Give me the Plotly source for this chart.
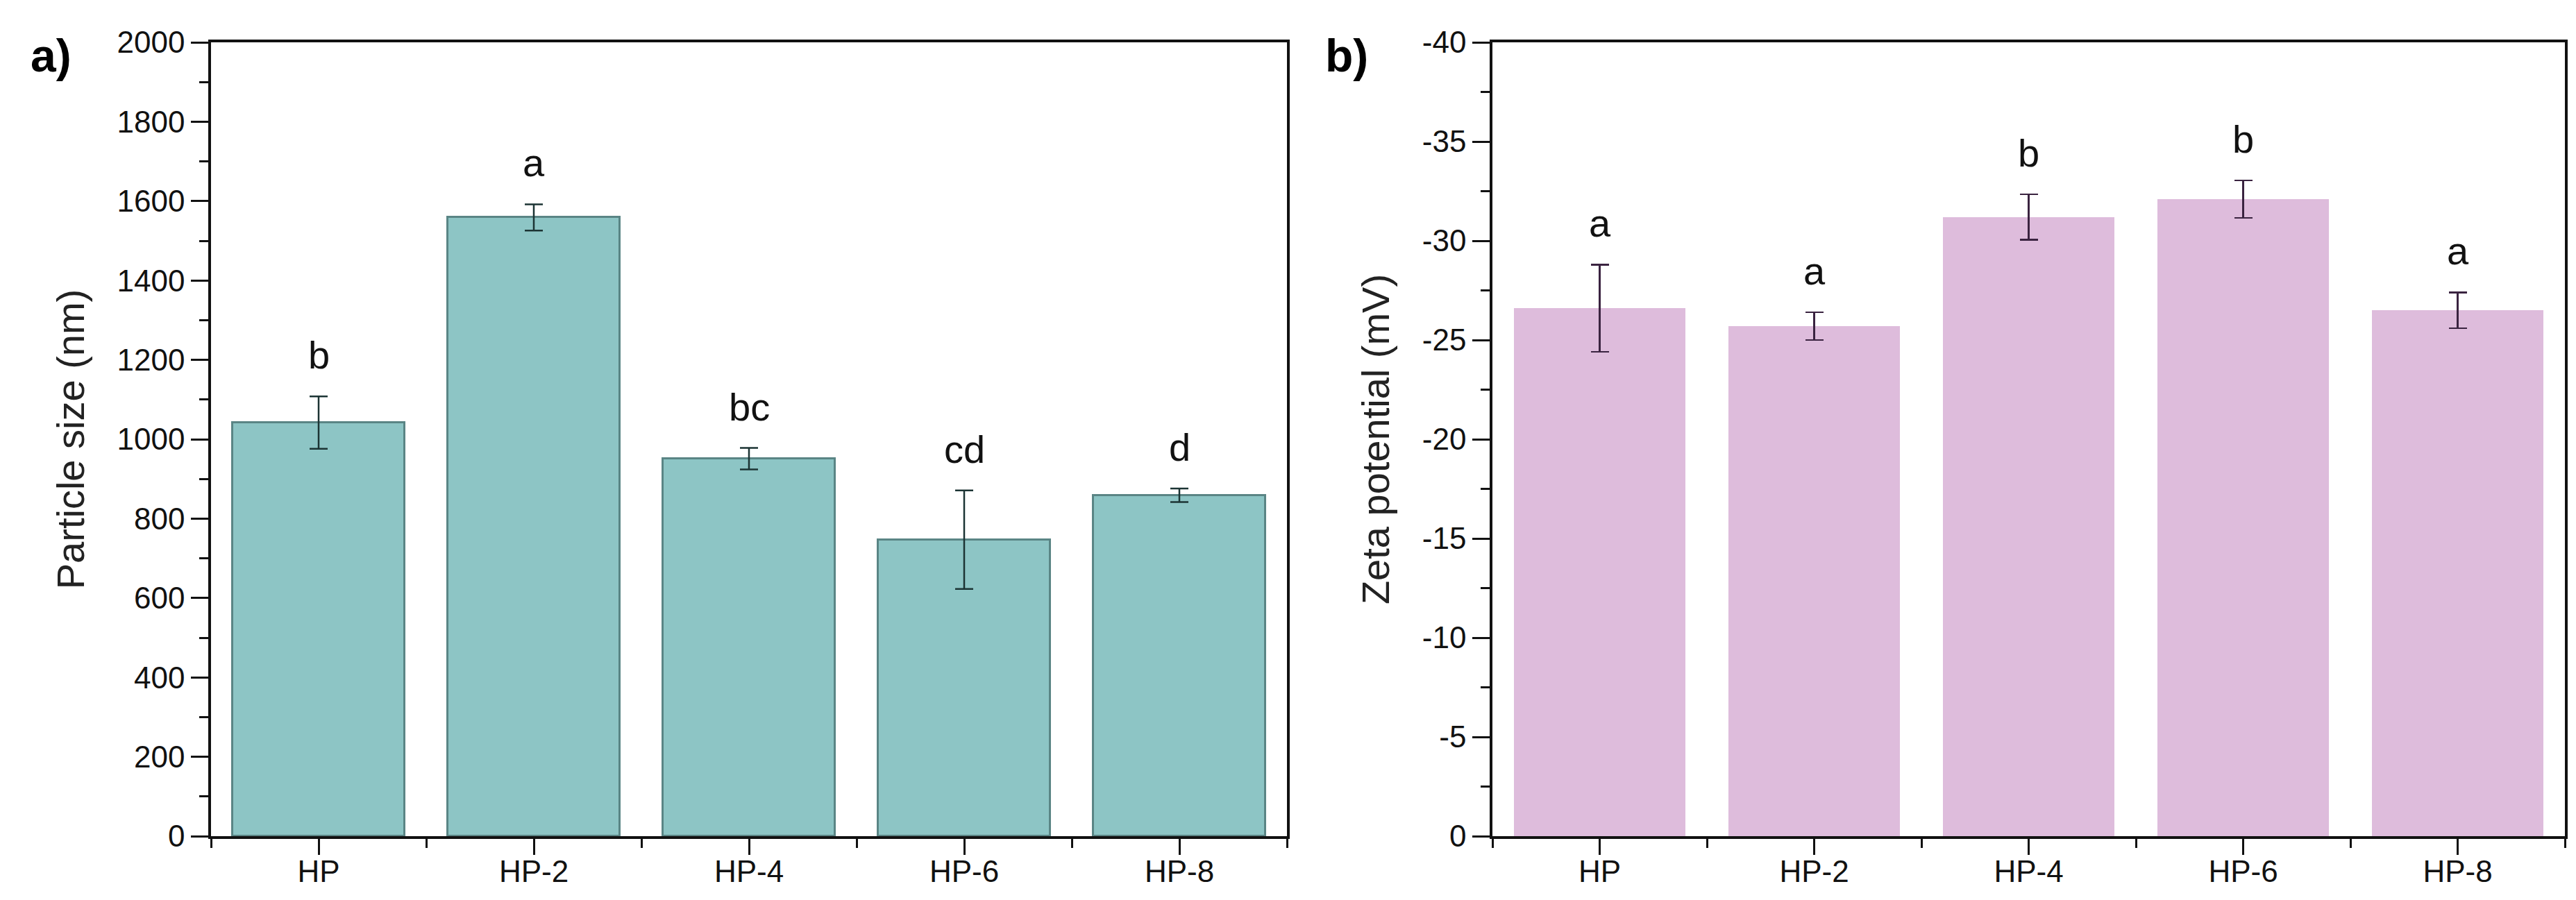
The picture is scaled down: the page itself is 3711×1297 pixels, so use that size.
import plotly.graph_objects as go

# sample names
samples = ["HP", "HP-2", "HP-4", "HP-6", "HP-8"]

# a) particle size (nm), mean and SD
size_nm = [1042, 1559, 951, 747, 859]
size_err = [66, 33, 27, 124, 17]
size_letters = ["b", "a", "bc", "cd", "d"]

# b) zeta potential (mV), mean and SD
zeta_mv = [-26.6, -25.7, -31.2, -32.1, -26.5]
zeta_err = [2.2, 0.7, 1.15, 0.95, 0.9]
zeta_letters = ["a", "a", "b", "b", "a"]

# y tick labels of panel b (plain hyphen, as in the original)
zeta_ticks = [0, -5, -10, -15, -20, -25, -30, -35, -40]

W, H = 3711, 1297
FONT = "Liberation Sans, Arial, sans-serif"
xpos = list(range(len(samples)))

fig = go.Figure()

fig.add_trace(go.Bar(
    x=xpos, y=size_nm, width=0.8,
    marker=dict(color="#8dc5c5", line=dict(color="#5a8585", width=3)),
    error_y=dict(type="data", array=size_err, color="#1c3434", thickness=2.5, width=13),
    xaxis="x", yaxis="y", showlegend=False,
))
fig.add_trace(go.Bar(
    x=xpos, y=zeta_mv, width=0.8,
    marker=dict(color="#debcdc", line=dict(width=0)),
    error_y=dict(type="data", array=zeta_err, color="#3a2340", thickness=2.5, width=13),
    xaxis="x2", yaxis="y2", showlegend=False,
))

# significance letters above the error bars
for i, s in enumerate(samples):
    fig.add_annotation(x=i, y=size_nm[i] + size_err[i], xref="x", yref="y",
                       text=size_letters[i], showarrow=False, yanchor="bottom", yshift=26,
                       font=dict(family=FONT, size=56, color="#111"))
    fig.add_annotation(x=i, y=zeta_mv[i] - zeta_err[i], xref="x2", yref="y2",
                       text=zeta_letters[i], showarrow=False, yanchor="bottom", yshift=26,
                       font=dict(family=FONT, size=56, color="#111"))

# panel labels
fig.add_annotation(x=34 / W, y=1 - 72 / H, xref="paper", yref="paper", text="<b>a)</b>",
                   showarrow=False, xanchor="left", yanchor="middle",
                   font=dict(family=FONT, size=66, color="#000"))
fig.add_annotation(x=1899 / W, y=1 - 72 / H, xref="paper", yref="paper", text="<b>b)</b>",
                   showarrow=False, xanchor="left", yanchor="middle",
                   font=dict(family=FONT, size=66, color="#000"))

ydom = [1 - 1197 / H, 1 - 53 / H]

xax = dict(
    range=[-0.5, 4.5], tickvals=xpos, ticktext=samples,
    showline=True, linecolor="#111", linewidth=3.5, mirror=True,
    ticks="outside", ticklen=23, tickwidth=3, tickcolor="#111",
    minor=dict(tick0=0.5, dtick=1, ticks="outside", ticklen=13, tickwidth=3, tickcolor="#111"),
    showgrid=False, zeroline=False, automargin=False,
    ticklabelstandoff=-14,
    tickfont=dict(family=FONT, size=44, color="#111"),
)
yax = dict(
    showline=True, linecolor="#111", linewidth=3.5, mirror=True,
    ticks="outside", ticklen=25, tickwidth=3, tickcolor="#111",
    showgrid=False, zeroline=False, automargin=False,
    tickfont=dict(family=FONT, size=44, color="#111"),
    domain=ydom,
)

fig.update_layout(
    width=W, height=H,
    margin=dict(l=0, r=0, t=0, b=0),
    plot_bgcolor="white", paper_bgcolor="white",
    bargap=0,
    xaxis=dict(xax, domain=[296 / W, 1846 / W], anchor="y"),
    yaxis=dict(yax, anchor="x", range=[0, 2000], dtick=200,
               minor=dict(dtick=100, ticks="outside", ticklen=13, tickwidth=3, tickcolor="#111"),
               title=dict(text="Particle size (nm)", standoff=30,
                          font=dict(family=FONT, size=56, color="#222"))),
    xaxis2=dict(xax, domain=[2142 / W, 3687 / W], anchor="y2"),
    yaxis2=dict(yax, anchor="x2", range=[0, -40],
                tickvals=zeta_ticks, ticktext=[str(v) for v in zeta_ticks],
                minor=dict(dtick=2.5, ticks="outside", ticklen=13, tickwidth=3, tickcolor="#111"),
                title=dict(text="Zeta potential (mV)", standoff=30,
                           font=dict(family=FONT, size=56, color="#222"))),
)

fig.write_html("out.html")
